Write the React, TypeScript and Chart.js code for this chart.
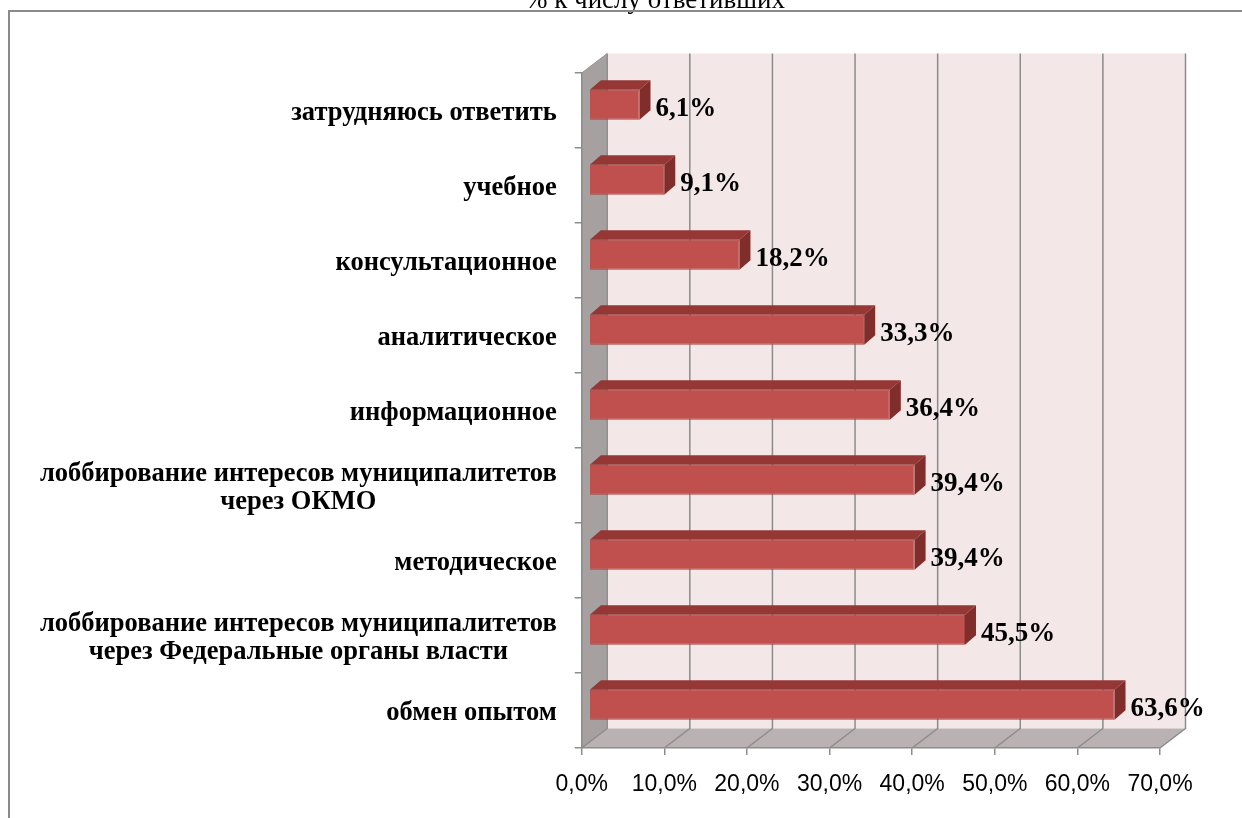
import React, { useEffect, useRef } from "react";
import { Chart, registerables } from "chart.js";

Chart.register(...registerables);

const title = "% к числу ответивших";

const categories: string[][] = [
  ["затрудняюсь ответить"],
  ["учебное"],
  ["консультационное"],
  ["аналитическое"],
  ["информационное"],
  ["лоббирование интересов муниципалитетов", "через ОКМО"],
  ["методическое"],
  ["лоббирование интересов муниципалитетов", "через Федеральные органы власти"],
  ["обмен опытом"],
];

const values: number[] = [6.1, 9.1, 18.2, 33.3, 36.4, 39.4, 39.4, 45.5, 63.6];

const xMin = 0;
const xMax = 70;
const xStep = 10;

const fmt = (v: number) => v.toFixed(1).replace(".", ",") + "%";

// 3D geometry
const DX = 25.5;
const DY = -19.5;
const FRONT_T = 0.29;
const BAR_DX = 11;
const BAR_DY = -9.5;

const GRID = "#8c8c8c";

const threeD = {
  id: "threeD",
  beforeDraw(chart: any) {
    const { ctx, chartArea: a, scales } = chart;
    const x = scales.x;
    ctx.save();
    ctx.fillStyle = "#ffffff";
    ctx.fillRect(0, 0, chart.width, chart.height);

    // title (cut at top)
    ctx.fillStyle = "#000";
    ctx.font = '27px "Liberation Serif", "Times New Roman", serif';
    ctx.textAlign = "center";
    ctx.textBaseline = "alphabetic";
    ctx.fillText(title, 655, 8);

    // outer border
    ctx.strokeStyle = "#8a8a8a";
    ctx.lineWidth = 2;
    ctx.strokeRect(9, 11, 1400, 1000);

    // back wall
    ctx.fillStyle = "#f3e7e7";
    ctx.fillRect(a.left + DX, a.top + DY, a.right - a.left, a.bottom - a.top);

    // side wall
    ctx.fillStyle = "#a6a0a0";
    ctx.beginPath();
    ctx.moveTo(a.left, a.top);
    ctx.lineTo(a.left + DX, a.top + DY);
    ctx.lineTo(a.left + DX, a.bottom + DY);
    ctx.lineTo(a.left, a.bottom);
    ctx.closePath();
    ctx.fill();

    // floor
    ctx.fillStyle = "#bab2b2";
    ctx.beginPath();
    ctx.moveTo(a.left, a.bottom);
    ctx.lineTo(a.left + DX, a.bottom + DY);
    ctx.lineTo(a.right + DX, a.bottom + DY);
    ctx.lineTo(a.right, a.bottom);
    ctx.closePath();
    ctx.fill();

    // gridlines on floor and back wall
    ctx.strokeStyle = GRID;
    ctx.lineWidth = 1.5;
    for (const t of x.ticks) {
      const px = x.getPixelForValue(t.value);
      ctx.beginPath();
      ctx.moveTo(px, a.bottom);
      ctx.lineTo(px + DX, a.bottom + DY);
      ctx.lineTo(px + DX, a.top + DY);
      ctx.stroke();
    }
    // side wall back-top edge
    ctx.beginPath();
    ctx.moveTo(a.left, a.top);
    ctx.lineTo(a.left + DX, a.top + DY);
    ctx.strokeStyle = "#9a9494";
    ctx.lineWidth = 1;
    ctx.stroke();
    ctx.restore();
  },
  beforeDatasetsDraw(chart: any) {
    chart.ctx.save();
    chart.ctx.translate(DX * FRONT_T, DY * FRONT_T);
  },
  afterDatasetsDraw(chart: any) {
    const { ctx } = chart;
    ctx.restore();
    const fx = DX * FRONT_T;
    const fy = DY * FRONT_T;
    const meta = chart.getDatasetMeta(0);
    ctx.save();
    meta.data.forEach((el: any, i: number) => {
      const p = el.getProps(["x", "y", "base", "height"], true);
      const left = p.base + fx;
      const right = p.x + fx;
      const top = p.y - p.height / 2 + fy;
      const bottom = p.y + p.height / 2 + fy;
      // top face
      ctx.fillStyle = "#953735";
      ctx.beginPath();
      ctx.moveTo(left, top);
      ctx.lineTo(left + BAR_DX, top + BAR_DY);
      ctx.lineTo(right + BAR_DX, top + BAR_DY);
      ctx.lineTo(right, top);
      ctx.closePath();
      ctx.fill();
      // side face
      ctx.fillStyle = "#7f2e2c";
      ctx.beginPath();
      ctx.moveTo(right, top);
      ctx.lineTo(right + BAR_DX, top + BAR_DY);
      ctx.lineTo(right + BAR_DX, bottom + BAR_DY);
      ctx.lineTo(right, bottom);
      ctx.closePath();
      ctx.fill();
      // value label
      ctx.fillStyle = "#000";
      ctx.font = 'bold 27px "Liberation Serif", "Times New Roman", serif';
      ctx.textAlign = "left";
      ctx.textBaseline = "middle";
      ctx.fillText(fmt(values[i]), right + 16, p.y + fy + 4);
    });
    ctx.restore();
  },
  afterDraw(chart: any) {
    const { ctx, chartArea: a, scales } = chart;
    const y = scales.y;
    ctx.save();
    ctx.fillStyle = "#000";
    ctx.font = 'bold 26.5px "Liberation Serif", "Times New Roman", serif';
    ctx.textAlign = "center";
    ctx.textBaseline = "middle";
    const rightEdge = a.left - 25;
    const lineH = 28;
    categories.forEach((lines, i) => {
      const yc = y.getPixelForValue(i) + 3;
      const w = Math.max(...lines.map((l) => ctx.measureText(l).width));
      const cx = rightEdge - w / 2;
      const start = yc - ((lines.length - 1) * lineH) / 2;
      lines.forEach((l, j) => ctx.fillText(l, cx, start + j * lineH));
    });
    ctx.restore();
  },
};

export default function App() {
  const ref = useRef<HTMLCanvasElement | null>(null);
  useEffect(() => {
    if (!ref.current) return;
    const chart = new Chart(ref.current, {
      type: "bar",
      data: {
        labels: categories.map((c) => c.join(" ")),
        datasets: [
          {
            data: values,
            backgroundColor: "#C0504D",
            borderColor: "#a8413e",
            borderWidth: 1,
            barPercentage: 0.4,
            categoryPercentage: 1,
          },
        ],
      },
      options: {
        indexAxis: "y",
        responsive: false,
        animation: false,
        devicePixelRatio: 1,
        layout: { padding: { top: 73, right: 82, left: 0, bottom: 0 } },
        plugins: { legend: { display: false }, tooltip: { enabled: false } },
        scales: {
          x: {
            min: xMin,
            max: xMax,
            ticks: {
              stepSize: xStep,
              callback: (v: any) => fmt(Number(v)),
              color: "#000",
              padding: 16,
              font: { family: '"Liberation Sans Narrow", "Liberation Sans", Arial, sans-serif', size: 23 },
            },
            grid: { drawOnChartArea: false, drawTicks: true, tickLength: 7, color: GRID, lineWidth: 1.5 },
            border: { display: true, color: GRID, width: 1.5 },
            afterFit: (s: any) => {
              s.height = 70;
            },
          },
          y: {
            ticks: { display: false },
            grid: { drawOnChartArea: false, drawTicks: true, tickLength: 7, color: GRID, lineWidth: 1.5, offset: true },
            border: { display: true, color: GRID, width: 1.5 },
            afterFit: (s: any) => {
              s.width = 581.7;
            },
          },
        },
      },
      plugins: [threeD],
    } as any);
    return () => chart.destroy();
  }, []);
  return (
    <div style={{ position: "absolute", left: 0, top: 0, width: 1242, height: 818, background: "#fff" }}>
      <canvas ref={ref} width={1242} height={818} style={{ display: "block" }} />
    </div>
  );
}
